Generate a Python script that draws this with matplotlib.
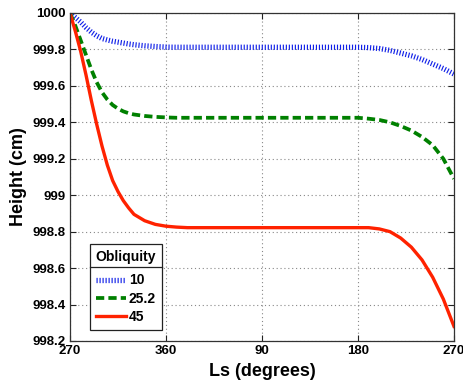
import matplotlib
matplotlib.use("Agg")
import matplotlib.pyplot as plt
from matplotlib.lines import Line2D
from matplotlib.transforms import IdentityTransform

plt.rcParams['font.family'] = ['Liberation Sans', 'DejaVu Sans']
plt.rcParams['font.weight'] = 'bold'

# Position along the Mars year in degrees after Ls 270
ls_offset = [0, 5, 10, 15, 20, 25, 30, 35, 40, 45, 50, 55, 60, 70, 80, 90,
             100, 110, 120, 130, 140, 150, 160, 170, 180, 190, 200, 210,
             220, 230, 240, 250, 260, 270, 280, 290, 300, 310, 320, 330,
             340, 350, 360]

height_10 = [1000, 999.975, 999.95, 999.92, 999.895, 999.875, 999.86, 999.852,
             999.845, 999.84, 999.835, 999.83, 999.826, 999.82, 999.816, 999.813,
             999.812, 999.812, 999.812, 999.812, 999.812, 999.812, 999.812, 999.812,
             999.812, 999.812, 999.812, 999.812, 999.812, 999.812, 999.812, 999.812,
             999.812, 999.812, 999.81, 999.805, 999.795, 999.78, 999.765, 999.745,
             999.72, 999.695, 999.665]

height_25 = [1000, 999.93, 999.85, 999.77, 999.69, 999.62, 999.565, 999.525,
             999.495, 999.475, 999.46, 999.45, 999.443, 999.435, 999.43, 999.427,
             999.425, 999.425, 999.425, 999.425, 999.425, 999.425, 999.425, 999.425,
             999.425, 999.425, 999.425, 999.425, 999.425, 999.425, 999.425, 999.425,
             999.425, 999.425, 999.42, 999.413, 999.40, 999.38, 999.355, 999.32,
             999.275, 999.20, 999.09]

height_45 = [1000, 999.90, 999.79, 999.66, 999.52, 999.39, 999.27, 999.165,
             999.08, 999.02, 998.97, 998.93, 998.895, 998.86, 998.84, 998.83,
             998.825, 998.822, 998.822, 998.822, 998.822, 998.822, 998.822, 998.822,
             998.822, 998.822, 998.822, 998.822, 998.822, 998.822, 998.822, 998.822,
             998.822, 998.822, 998.822, 998.815, 998.80, 998.765, 998.715, 998.645,
             998.55, 998.43, 998.28]

x_tick_pos = [0, 90, 180, 270, 360]
x_tick_labels = ['270', '360', '90', '180', '270']
y_ticks = [998.2, 998.4, 998.6, 998.8, 999.0, 999.2, 999.4, 999.6, 999.8, 1000.0]
y_tick_labels = ['998.2', '998.4', '998.6', '998.8', '999', '999.2', '999.4',
                 '999.6', '999.8', '1000']
legend_labels = ['10', '25.2', '45']

W, H = 464, 381
fig = plt.figure(figsize=(W / 100, H / 100), dpi=100)
ax = fig.add_axes([70 / W, 40 / H, 384 / W, 328 / H])

l1, = ax.plot(ls_offset, height_10, color='#1020e8', lw=3.8,
              ls=(0, (0.22, 0.35)), dash_capstyle='butt')
l2, = ax.plot(ls_offset, height_25, color='#008000', lw=2.7,
              ls=(0, (2.2, 1.1)), dash_capstyle='butt')
l3, = ax.plot(ls_offset, height_45, color='#ff2200', lw=2.4)

ax.set_xlim(0, 360)
ax.set_ylim(998.2, 1000)
ax.set_xticks(x_tick_pos)
ax.set_xticklabels(x_tick_labels)
ax.set_yticks(y_ticks)
ax.set_yticklabels(y_tick_labels)
ax.tick_params(direction='in', length=4, width=0.8, top=True, right=True,
               labelsize=9.5, colors='#222222', labelcolor='black', pad=3)
for lab in ax.get_xticklabels() + ax.get_yticklabels():
    lab.set_fontweight('bold')
ax.grid(True, color='#888888', ls=(0, (1, 2.5)), lw=0.8)
for s in ax.spines.values():
    s.set_color('#333333')
    s.set_linewidth(0.9)

ax.set_xlabel('Ls (degrees)', fontsize=13, fontweight='bold', labelpad=4)
ax.set_ylabel('Height (cm)', fontsize=13, fontweight='bold', labelpad=4)

leg = ax.legend([l1, l2, l3], legend_labels, title='Obliquity',
                loc='lower left', bbox_to_anchor=(0.052, 0.034), borderaxespad=0,
                fontsize=10, title_fontproperties={'weight': 'bold', 'size': 10},
                fancybox=False, framealpha=1, edgecolor='#222222',
                handlelength=2.2, handletextpad=0.2, labelspacing=0.32,
                borderpad=0.4)
leg._legend_box.sep = 7
leg.get_frame().set_linewidth(0.9)
for t in leg.get_texts():
    t.set_fontweight('bold')

fig.canvas.draw()
fb = leg.get_frame().get_window_extent()
tb = leg.get_title().get_window_extent()
y_sep = tb.y0 - 3
fig.add_artist(Line2D([fb.x0, fb.x1], [y_sep, y_sep], transform=IdentityTransform(),
                      color='#222222', lw=0.9))

fig.savefig('out.png', dpi=100)
